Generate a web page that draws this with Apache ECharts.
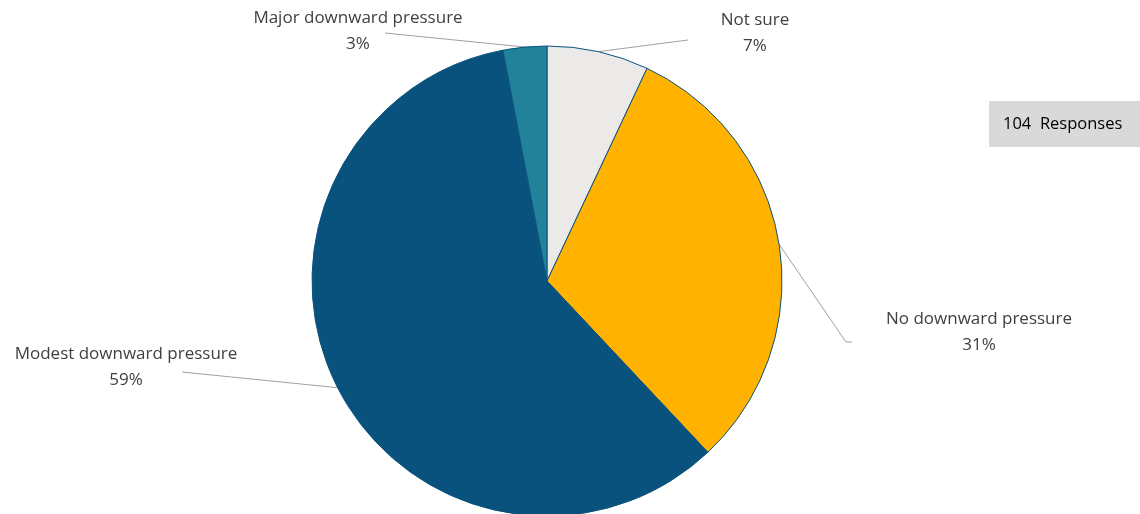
<!DOCTYPE html>
<html>
<head>
<meta charset="utf-8">
<script src="https://cdn.jsdelivr.net/npm/echarts@6/dist/echarts.min.js"></script>
<style>
html,body{margin:0;padding:0;background:#fff;}
#chart{width:1140px;height:514px;}
</style>
</head>
<body>
<div id="chart"></div>
<script>
// clockwise from 12 o'clock
var categories = ['Not sure', 'No downward pressure', 'Modest downward pressure', 'Major downward pressure'];
var shares = [7, 31, 59, 3];
var responses = 104;

var colors = ['#EBEAE9', '#FFB300', '#0A527E', '#22829A'];
// label centres and where the leader line stops
var labelAt = [[755, 33], [979, 332], [126, 367], [358, 31]];
var lineEnd = [[[688, 40]], [[846, 342], [852, 342]], [[182, 372]], [[385, 33]]];

var data = [];
for(var i=0;i<categories.length;i++){
	data.push({name:categories[i], value:shares[i], itemStyle:{color:colors[i]}});
}

var myChart = echarts.init(document.getElementById('chart'));
var option = {
	animation:false,
	textStyle:{fontFamily:'Open Sans'},
	series:[{
		type:'pie',
		center:[547, 281],
		radius:235,
		startAngle:90,
		clockwise:true,
		data:data,
		itemStyle:{borderColor:'#0A527E', borderWidth:1},
		label:{
			show:true,
			formatter:'{b}\n{d}%',
			color:'#404040',
			fontSize:17,
			lineHeight:26,
			align:'center'
		},
		labelLine:{show:true, lineStyle:{color:'#A0A0A0', width:1}},
		labelLayout:function(p){
			var i = p.dataIndex;
			var pts = [p.labelLinePoints[0]].concat(lineEnd[i]);
			if(pts.length<3) pts.push(pts[pts.length-1]);
			return {
				x:labelAt[i][0],
				y:labelAt[i][1],
				align:'center',
				verticalAlign:'middle',
				labelLinePoints:pts
			};
		},
		emphasis:{disabled:true}
	}],
	graphic:[{
		type:'group',
		left:989,
		top:101,
		children:[{
			type:'rect',
			shape:{x:0,y:0,width:151,height:46},
			style:{fill:'#D9D9D9'}
		},{
			type:'text',
			x:14,
			y:23,
			style:{text:responses + '  Responses', fill:'#000', font:'16.5px "Open Sans"', verticalAlign:'middle'}
		}]
	}]
};
myChart.setOption(option);
</script>
</body>
</html>
